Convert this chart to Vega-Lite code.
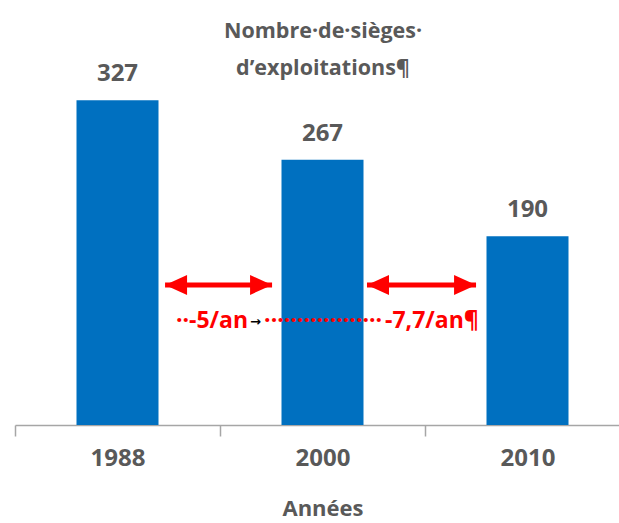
{
  "$schema": "https://vega.github.io/schema/vega-lite/v6.json",
  "width": 604,
  "height": 425,
  "autosize": {"type": "none"},
  "padding": {"left": 15, "top": 0, "right": 0, "bottom": 98},
  "background": "white",
  "config": {"view": {"stroke": null}, "font": "Open Sans"},
  "title": {
    "text": ["Nombre·de·sièges·", "d’exploitations¶"],
    "orient": "top",
    "anchor": "middle",
    "frame": "group",
    "font": "Open Sans",
    "fontSize": 21.5,
    "fontWeight": "bold",
    "color": "#595959",
    "lineHeight": 37,
    "dx": 6,
    "dy": 83
  },
  "datasets": {
    "sieges": [
      {"annee": "1988", "n": 327},
      {"annee": "2000", "n": 267},
      {"annee": "2010", "n": 190}
    ],
    "fleches": [
      {"de": 0.732, "a": 1.254, "y": 141},
      {"de": 1.717, "a": 2.249, "y": 141}
    ],
    "notes": [
      {"k": "rouge", "t": "··-5/an", "x": 0.785, "y": 98},
      {"k": "points", "t": "··················", "x": 1.215, "y": 98},
      {"k": "fin", "t": "-7,7/an¶", "x": 2.263, "y": 98},
      {"k": "tab", "t": "→", "x": 1.146, "y": 104}
    ]
  },
  "layer": [
    {
      "data": {"name": "sieges"},
      "layer": [
        {
          "mark": {"type": "bar", "color": "#0070c0", "width": {"band": 0.4}},
          "encoding": {
            "x": {
              "field": "annee",
              "type": "nominal",
              "scale": {"range": [0, 615], "paddingInner": 0, "paddingOuter": 0},
              "axis": {
                "title": "Années",
                "labelAngle": 0,
                "tickBand": "extent",
                "domainColor": "#a6a6a6",
                "tickColor": "#a6a6a6",
                "domainWidth": 1.5,
                "tickWidth": 1.5,
                "tickSize": 11,
                "labelPadding": 10,
                "labelFont": "Open Sans",
                "labelFontSize": 24,
                "labelFontWeight": "bold",
                "labelColor": "#595959",
                "titleFont": "Open Sans",
                "titleFontSize": 22,
                "titleFontWeight": "bold",
                "titleColor": "#595959",
                "titlePadding": 28,
                "grid": false
              }
            },
            "y": {"field": "n", "type": "quantitative", "scale": {"domain": [0, 428]}, "axis": null}
          }
        },
        {
          "mark": {"type": "text", "dy": -19, "baseline": "alphabetic", "font": "Open Sans", "fontSize": 24, "fontWeight": "bold", "color": "#595959"},
          "encoding": {
            "x": {"field": "annee", "type": "nominal", "scale": {"range": [0, 615], "paddingInner": 0, "paddingOuter": 0}},
            "y": {"field": "n", "type": "quantitative", "scale": {"domain": [0, 428]}, "axis": null},
            "text": {"field": "n"}
          }
        }
      ]
    },
    {
      "data": {"name": "fleches"},
      "layer": [
        {
          "mark": {"type": "rule", "color": "#ff0000", "strokeWidth": 5},
          "encoding": {
            "x": {"field": "de", "type": "quantitative", "scale": {"domain": [0, 3], "range": [0, 615]}, "axis": null},
            "x2": {"field": "a"},
            "y": {"field": "y", "type": "quantitative", "scale": {"domain": [0, 428]}, "axis": null}
          }
        },
        {
          "mark": {"type": "point", "shape": "M0,0L2,-0.9L2,0.9Z", "filled": true, "color": "#ff0000", "opacity": 1, "size": 484, "strokeWidth": 0},
          "encoding": {
            "x": {"field": "de", "type": "quantitative", "scale": {"domain": [0, 3], "range": [0, 615]}, "axis": null},
            "y": {"field": "y", "type": "quantitative", "scale": {"domain": [0, 428]}, "axis": null}
          }
        },
        {
          "mark": {"type": "point", "shape": "M0,0L-2,-0.9L-2,0.9Z", "filled": true, "color": "#ff0000", "opacity": 1, "size": 484, "strokeWidth": 0},
          "encoding": {
            "x": {"field": "a", "type": "quantitative", "scale": {"domain": [0, 3], "range": [0, 615]}, "axis": null},
            "y": {"field": "y", "type": "quantitative", "scale": {"domain": [0, 428]}, "axis": null}
          }
        }
      ]
    },
    {
      "data": {"name": "notes"},
      "layer": [
        {
          "transform": [{"filter": "datum.k === 'rouge' || datum.k === 'points'"}],
          "mark": {"type": "text", "align": "left", "baseline": "alphabetic", "font": "Open Sans", "fontSize": 23, "fontWeight": "bold", "color": "#ff0000"},
          "encoding": {
            "x": {"field": "x", "type": "quantitative", "scale": {"domain": [0, 3], "range": [0, 615]}, "axis": null},
            "y": {"field": "y", "type": "quantitative", "scale": {"domain": [0, 428]}, "axis": null},
            "text": {"field": "t"}
          }
        },
        {
          "transform": [{"filter": "datum.k === 'fin'"}],
          "mark": {"type": "text", "align": "right", "baseline": "alphabetic", "font": "Open Sans", "fontSize": 23, "fontWeight": "bold", "color": "#ff0000"},
          "encoding": {
            "x": {"field": "x", "type": "quantitative", "scale": {"domain": [0, 3], "range": [0, 615]}, "axis": null},
            "y": {"field": "y", "type": "quantitative", "scale": {"domain": [0, 428]}, "axis": null},
            "text": {"field": "t"}
          }
        },
        {
          "transform": [{"filter": "datum.k === 'tab'"}],
          "mark": {"type": "text", "align": "left", "baseline": "middle", "font": "DejaVu Sans", "fontSize": 13, "fontWeight": "bold", "color": "#000000"},
          "encoding": {
            "x": {"field": "x", "type": "quantitative", "scale": {"domain": [0, 3], "range": [0, 615]}, "axis": null},
            "y": {"field": "y", "type": "quantitative", "scale": {"domain": [0, 428]}, "axis": null},
            "text": {"field": "t"}
          }
        }
      ]
    }
  ],
  "resolve": {"scale": {"x": "independent"}}
}
